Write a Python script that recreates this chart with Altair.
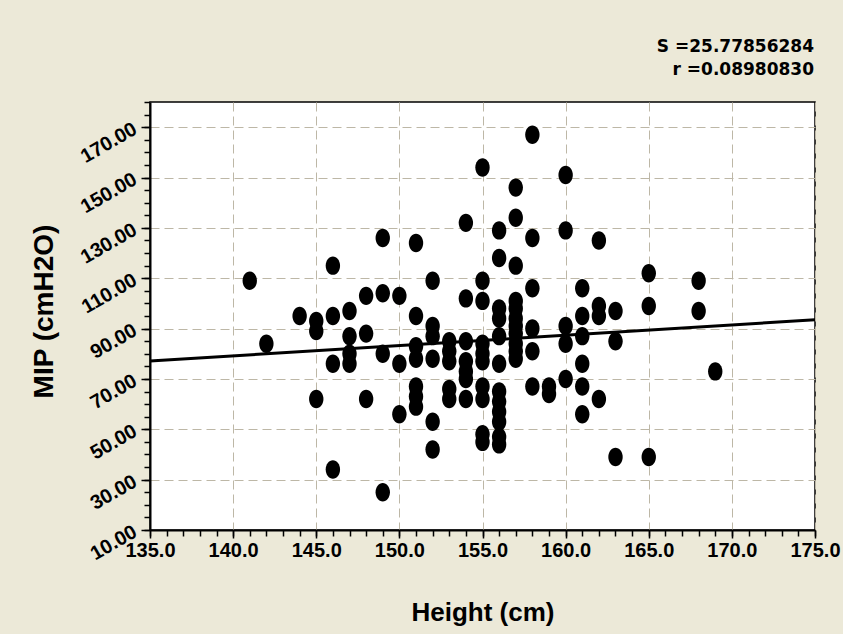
import altair as alt
import pandas as pd

# ---- data ----
height_cm = [141, 142, 144,
             145, 145, 145,
             146, 146, 146, 146,
             147, 147, 147, 147,
             148, 148, 148,
             149, 149, 149, 149,
             150, 150, 150,
             151, 151, 151, 151, 151, 151, 151,
             152, 152, 152, 152, 152, 152,
             153, 153, 153, 153, 153,
             154, 154, 154, 154, 154, 154, 154,
             155, 155, 155, 155, 155, 155, 155, 155, 155, 155,
             156, 156, 156, 156, 156, 156, 156, 156, 156, 156, 156, 156,
             157, 157, 157, 157, 157, 157, 157, 157, 157, 157, 157,
             158, 158, 158, 158, 158, 158,
             159, 159,
             160, 160, 160, 160, 160,
             161, 161, 161, 161, 161, 161,
             162, 162, 162, 162,
             163, 163, 163,
             165, 165, 165,
             168, 168,
             169]
mip_cmh2o = [109, 84, 95,
             93, 89, 62,
             115, 95, 76, 34,
             97, 87, 80, 76,
             103, 88, 62,
             126, 104, 80, 25,
             103, 76, 56,
             124, 95, 83, 78, 67, 63, 59,
             109, 91, 87, 78, 53, 42,
             85, 81, 77, 66, 62,
             132, 102, 85, 77, 73, 70, 62,
             154, 109, 101, 84, 80, 77, 67, 62, 48, 45,
             129, 118, 98, 94, 87, 76, 65, 61, 57, 53, 47, 44,
             146, 134, 115, 101, 98, 94, 91, 88, 84, 81, 78,
             167, 126, 106, 90, 81, 67,
             67, 64,
             151, 129, 91, 84, 70,
             106, 95, 87, 76, 67, 56,
             125, 99, 95, 62,
             97, 85, 39,
             112, 99, 39,
             109, 97,
             73]

fit_height = [135.0, 175.0]
fit_mip = [77.1, 93.5]

stats_lines = ["S =25.77856284", "r =0.08980830"]

x_major = [135, 140, 145, 150, 155, 160, 165, 170, 175]
x_minor = list(range(135, 176))
y_major = [10, 30, 50, 70, 90, 110, 130, 150, 170]
y_minor = list(range(10, 181, 5))

x_title = "Height (cm)"
y_title = "MIP (cmH2O)"

# ---- build chart ----
df = pd.DataFrame({"height": height_cm, "mip": mip_cmh2o})
fit_df = pd.DataFrame({"height": fit_height, "mip": fit_mip})

FONT = "Liberation Sans"
BG = "#ECE9D8"
GRID = "#BDB7A6"

xscale = alt.Scale(domain=[135, 175], nice=False, zero=False)
yscale = alt.Scale(domain=[10, 180], nice=False, zero=False)

ellipse = ("M 0,-1 C 0.431,-1 0.78,-0.5523 0.78,0 "
           "C 0.78,0.5523 0.431,1 0,1 "
           "C -0.431,1 -0.78,0.5523 -0.78,0 "
           "C -0.78,-0.5523 -0.431,-1 0,-1 Z")

minor = alt.Chart(df).mark_point(opacity=0).encode(
    x=alt.X("height:Q", scale=xscale,
            axis=alt.Axis(values=x_minor, labels=False, title=None, grid=False,
                          domain=False, orient="bottom", tickSize=6,
                          tickColor="black", tickWidth=1.5)),
    y=alt.Y("mip:Q", scale=yscale,
            axis=alt.Axis(values=y_minor, labels=False, title=None, grid=False,
                          domain=False, orient="left", tickSize=6,
                          tickColor="black", tickWidth=1.5)),
)

fit_line = alt.Chart(fit_df).mark_line(color="black", strokeWidth=3).encode(
    x=alt.X("height:Q", scale=xscale, axis=None),
    y=alt.Y("mip:Q", scale=yscale, axis=None),
)

points = alt.Chart(df).mark_point(shape=ellipse, filled=True, color="black",
                                  opacity=1, size=340).encode(
    x=alt.X("height:Q", scale=xscale,
            axis=alt.Axis(values=x_major, format=".1f", orient="bottom",
                          title=x_title, grid=True, gridColor=GRID,
                          gridDash=[9, 5], gridWidth=1,
                          domainColor="black", domainWidth=2,
                          tickColor="black", tickWidth=1.5, tickSize=8,
                          labelFont=FONT, labelFontSize=20, labelFontWeight="bold",
                          labelColor="black", labelPadding=2, labelFlush=False,
                          titleFont=FONT, titleFontSize=26, titleFontWeight="bold",
                          titleColor="black", titleY=90,
                          titleBaseline="alphabetic")),
    y=alt.Y("mip:Q", scale=yscale,
            axis=alt.Axis(values=y_major, format=".2f", orient="left",
                          title=y_title, grid=True, gridColor=GRID,
                          gridDash=[9, 5], gridWidth=1,
                          domainColor="black", domainWidth=2,
                          tickColor="black", tickWidth=1.5, tickSize=9,
                          labelFont=FONT, labelFontSize=20, labelFontWeight="bold",
                          labelColor="black", labelAngle=-30, labelAlign="right",
                          labelBaseline="middle", labelPadding=6, labelFlush=False,
                          titleFont=FONT, titleFontSize=28, titleFontWeight="bold",
                          titleColor="black", titleAngle=270, titleX=-98, titleY=209,
                          titleAlign="center", titleBaseline="alphabetic")),
)

stat1 = alt.Chart(pd.DataFrame({"t": [stats_lines[0]]})).mark_text(
    font="DejaVu Sans", fontSize=17, fontWeight="bold", align="right",
    baseline="alphabetic", color="black"
).encode(text="t:N", x=alt.value(664), y=alt.value(-50))

stat2 = alt.Chart(pd.DataFrame({"t": [stats_lines[1]]})).mark_text(
    font="DejaVu Sans", fontSize=17, fontWeight="bold", align="right",
    baseline="alphabetic", color="black"
).encode(text="t:N", x=alt.value(664), y=alt.value(-27))

chart = alt.layer(minor, fit_line, points, stat1, stat2).resolve_axis(
    x="independent", y="independent"
).properties(
    width=665, height=428,
    autosize=alt.AutoSizeParams(type="none"),
    padding={"left": 150, "top": 102, "right": 28, "bottom": 104},
    background=BG,
).configure_view(fill="white", stroke="black", strokeWidth=1.5)

chart.save("out.html", embed_options={"renderer": "svg", "actions": False})
